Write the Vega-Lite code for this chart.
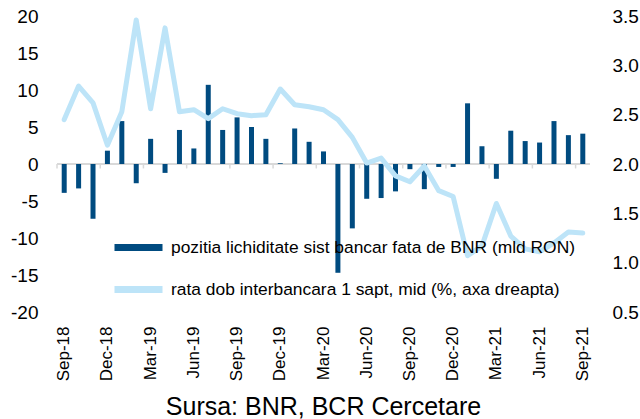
{
  "$schema": "https://vega.github.io/schema/vega-lite/v6.json",
  "width": 533,
  "height": 296,
  "autosize": {"type": "none"},
  "padding": {"left": 57, "top": 16, "right": 50, "bottom": 107},
  "background": "white",
  "config": {
    "view": {"stroke": null},
    "font": "Liberation Sans",
    "axis": {"labelFont": "Liberation Sans", "labelColor": "#000000", "grid": false, "domain": false, "ticks": false, "title": null, "labelOverlap": false}
  },
  "title": {"text": "Sursa: BNR, BCR Cercetare", "orient": "bottom", "anchor": "middle", "fontSize": 25, "fontWeight": "normal", "font": "Liberation Sans", "color": "#000000", "offset": 14},
  "data": {"values": [
    {"m": "Sep-18", "v": -3.9, "r": 2.45},
    {"m": "Oct-18", "v": -3.3, "r": 2.79},
    {"m": "Nov-18", "v": -7.4, "r": 2.62},
    {"m": "Dec-18", "v": 1.8, "r": 2.19},
    {"m": "Jan-19", "v": 5.8, "r": 2.53},
    {"m": "Feb-19", "v": -2.6, "r": 3.46},
    {"m": "Mar-19", "v": 3.4, "r": 2.56},
    {"m": "Apr-19", "v": -1.2, "r": 3.38},
    {"m": "May-19", "v": 4.6, "r": 2.53},
    {"m": "Jun-19", "v": 2.1, "r": 2.55},
    {"m": "Jul-19", "v": 10.7, "r": 2.46},
    {"m": "Aug-19", "v": 4.6, "r": 2.56},
    {"m": "Sep-19", "v": 6.3, "r": 2.51},
    {"m": "Oct-19", "v": 5.0, "r": 2.49},
    {"m": "Nov-19", "v": 3.4, "r": 2.50},
    {"m": "Dec-19", "v": 0.1, "r": 2.76},
    {"m": "Jan-20", "v": 4.8, "r": 2.60},
    {"m": "Feb-20", "v": 3.0, "r": 2.58},
    {"m": "Mar-20", "v": 1.7, "r": 2.55},
    {"m": "Apr-20", "v": -14.7, "r": 2.45},
    {"m": "May-20", "v": -8.7, "r": 2.27},
    {"m": "Jun-20", "v": -4.7, "r": 2.01},
    {"m": "Jul-20", "v": -4.6, "r": 2.06},
    {"m": "Aug-20", "v": -3.7, "r": 1.88},
    {"m": "Sep-20", "v": -0.7, "r": 1.82},
    {"m": "Oct-20", "v": -3.4, "r": 1.98},
    {"m": "Nov-20", "v": -0.4, "r": 1.73},
    {"m": "Dec-20", "v": -0.4, "r": 1.67},
    {"m": "Jan-21", "v": 8.2, "r": 1.07},
    {"m": "Feb-21", "v": 2.4, "r": 1.17},
    {"m": "Mar-21", "v": -2.0, "r": 1.60},
    {"m": "Apr-21", "v": 4.5, "r": 1.27},
    {"m": "May-21", "v": 3.1, "r": 1.14},
    {"m": "Jun-21", "v": 2.9, "r": 1.11},
    {"m": "Jul-21", "v": 5.8, "r": 1.20},
    {"m": "Aug-21", "v": 3.9, "r": 1.31},
    {"m": "Sep-21", "v": 4.1, "r": 1.30}
  ]},
  "layer": [
    {
      "layer": [
        {
          "data": {"values": [{}]},
          "mark": {"type": "rule", "color": "#d9d9d9", "strokeWidth": 2},
          "encoding": {"y": {"datum": 0, "scale": {"domain": [-20, 20], "nice": false, "zero": false},
            "axis": {"orient": "left", "values": [-20, -15, -10, -5, 0, 5, 10, 15, 20], "labelExpr": "'' + datum.value", "labelFontSize": 19, "labelPadding": 19, "labelOverlap": false}}}
        },
        {
          "transform": [{"filter": "indexof(['Sep','Dec','Mar','Jun'], slice(datum.m, 0, 3)) >= 0"}],
          "mark": {"type": "rule", "color": "#d9d9d9", "strokeWidth": 1.5},
          "encoding": {
            "x": {"field": "m", "type": "ordinal", "bandPosition": 0,
              "scale": {"type": "band", "paddingInner": 0, "paddingOuter": 0, "domain": ["Sep-18","Oct-18","Nov-18","Dec-18","Jan-19","Feb-19","Mar-19","Apr-19","May-19","Jun-19","Jul-19","Aug-19","Sep-19","Oct-19","Nov-19","Dec-19","Jan-20","Feb-20","Mar-20","Apr-20","May-20","Jun-20","Jul-20","Aug-20","Sep-20","Oct-20","Nov-20","Dec-20","Jan-21","Feb-21","Mar-21","Apr-21","May-21","Jun-21","Jul-21","Aug-21","Sep-21"]},
              "axis": {"orient": "bottom", "labelAngle": -90, "labelFontSize": 17, "labelPadding": 14,
                "values": ["Sep-18","Dec-18","Mar-19","Jun-19","Sep-19","Dec-19","Mar-20","Jun-20","Sep-20","Dec-20","Mar-21","Jun-21","Sep-21"]}},
            "y": {"datum": 0, "scale": {"domain": [-20, 20], "nice": false, "zero": false},
              "axis": {"orient": "left", "values": [-20, -15, -10, -5, 0, 5, 10, 15, 20], "labelExpr": "'' + datum.value", "labelFontSize": 19, "labelPadding": 19, "labelOverlap": false}},
            "y2": {"datum": -0.6}
          }
        },
        {
          "mark": {"type": "bar", "width": 5},
          "encoding": {
            "x": {"field": "m", "type": "ordinal",
              "scale": {"type": "band", "paddingInner": 0, "paddingOuter": 0, "domain": ["Sep-18","Oct-18","Nov-18","Dec-18","Jan-19","Feb-19","Mar-19","Apr-19","May-19","Jun-19","Jul-19","Aug-19","Sep-19","Oct-19","Nov-19","Dec-19","Jan-20","Feb-20","Mar-20","Apr-20","May-20","Jun-20","Jul-20","Aug-20","Sep-20","Oct-20","Nov-20","Dec-20","Jan-21","Feb-21","Mar-21","Apr-21","May-21","Jun-21","Jul-21","Aug-21","Sep-21"]},
              "axis": {"orient": "bottom", "labelAngle": -90, "labelFontSize": 17, "labelPadding": 14,
                "values": ["Sep-18","Dec-18","Mar-19","Jun-19","Sep-19","Dec-19","Mar-20","Jun-20","Sep-20","Dec-20","Mar-21","Jun-21","Sep-21"]}},
            "y": {"field": "v", "type": "quantitative",
              "scale": {"domain": [-20, 20], "nice": false, "zero": false},
              "axis": {"orient": "left", "values": [-20, -15, -10, -5, 0, 5, 10, 15, 20], "labelExpr": "'' + datum.value", "labelFontSize": 19, "labelPadding": 19, "labelOverlap": false}},
            "color": {"datum": "pozitia lichiditate sist bancar fata de BNR (mld RON)",
              "scale": {"domain": ["pozitia lichiditate sist bancar fata de BNR (mld RON)", "rata dob interbancara 1 sapt, mid (%, axa dreapta)"], "range": ["#004b80", "#bde4f8"]},
              "legend": {"orient": "none", "legendX": 54, "legendY": 204, "title": null, "direction": "vertical",
                "symbolType": "stroke", "symbolSize": 2304, "symbolStrokeWidth": 7, "labelFontSize": 17.4, "labelFont": "Liberation Sans", "labelColor": "#000000",
                "labelOffset": 5, "rowPadding": -10, "padding": 0, "labelLimit": 600}}
          }
        }
      ]
    },
    {
      "mark": {"type": "line", "strokeWidth": 5, "strokeCap": "round", "strokeJoin": "round"},
      "encoding": {
        "x": {"field": "m", "type": "ordinal",
          "scale": {"type": "band", "paddingInner": 0, "paddingOuter": 0, "domain": ["Sep-18","Oct-18","Nov-18","Dec-18","Jan-19","Feb-19","Mar-19","Apr-19","May-19","Jun-19","Jul-19","Aug-19","Sep-19","Oct-19","Nov-19","Dec-19","Jan-20","Feb-20","Mar-20","Apr-20","May-20","Jun-20","Jul-20","Aug-20","Sep-20","Oct-20","Nov-20","Dec-20","Jan-21","Feb-21","Mar-21","Apr-21","May-21","Jun-21","Jul-21","Aug-21","Sep-21"]},
          "axis": {"orient": "bottom", "labelAngle": -90, "labelFontSize": 17, "labelPadding": 14,
            "values": ["Sep-18","Dec-18","Mar-19","Jun-19","Sep-19","Dec-19","Mar-20","Jun-20","Sep-20","Dec-20","Mar-21","Jun-21","Sep-21"]}},
        "y": {"field": "r", "type": "quantitative",
          "scale": {"domain": [0.5, 3.5], "nice": false, "zero": false},
          "axis": {"orient": "right", "values": [0.5, 1, 1.5, 2, 2.5, 3, 3.5], "format": ".1f", "labelFontSize": 19, "labelPadding": 22}},
        "color": {"datum": "rata dob interbancara 1 sapt, mid (%, axa dreapta)"}
      }
    }
  ],
  "resolve": {"scale": {"y": "independent"}}
}
